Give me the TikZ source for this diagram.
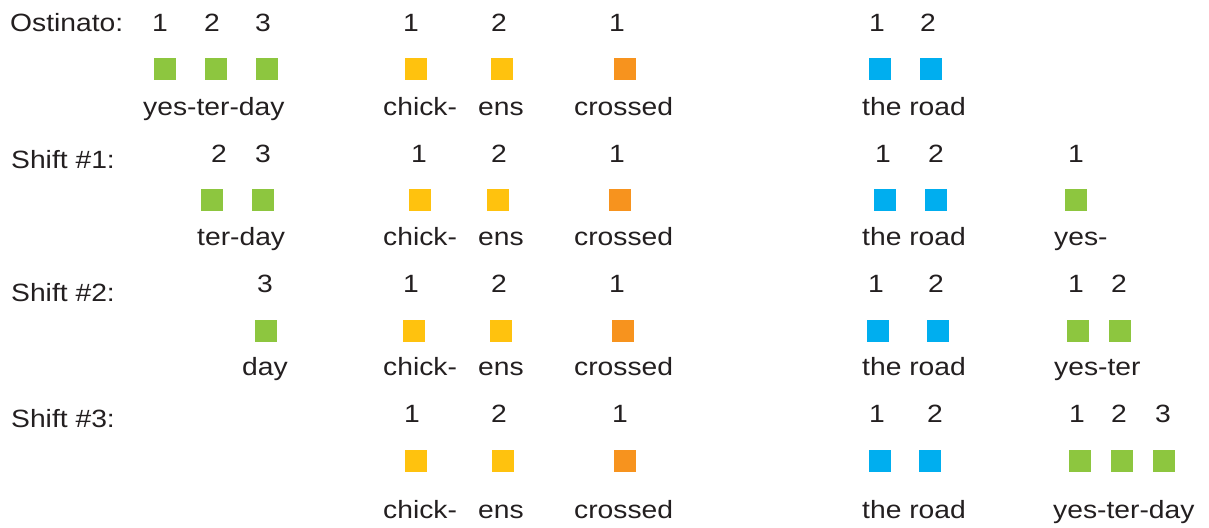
\documentclass[tikz,border=0pt]{standalone}
\usepackage{fontspec}
\setmainfont[FakeStretch=1.13]{Liberation Sans}
\definecolor{txt}{HTML}{231F20}
\definecolor{sqgreen}{HTML}{8DC63F}
\definecolor{sqyellow}{HTML}{FFC20E}
\definecolor{sqorange}{HTML}{F7931E}
\definecolor{sqblue}{HTML}{00AEEF}
\tikzset{
  lbl/.style={anchor=base west, inner sep=0pt, text=txt, font=\fontsize{25}{30}\selectfont},
  num/.style={anchor=base, inner sep=0pt, text=txt, font=\fontsize{25}{30}\selectfont},
  word/.style={anchor=base west, inner sep=0pt, text=txt, font=\fontsize{25}{30}\selectfont},
  sq/.style={rectangle, inner sep=0pt, minimum size=22pt, draw=none},
  gsq/.style={sq, fill=sqgreen},
  ysq/.style={sq, fill=sqyellow},
  osq/.style={sq, fill=sqorange},
  bsq/.style={sq, fill=sqblue}
}
\begin{document}
\begin{tikzpicture}[x=1pt,y=-1pt]
\useasboundingbox (0,0) rectangle (1209,527);
% ---------- Row 1: Ostinato ----------
\node[lbl] (l1) at (10,32) {Ostinato:};
\node[num] (a1n1) at (160,32) {1};
\node[num] (a1n2) at (212,32) {2};
\node[num] (a1n3) at (263,32) {3};
\node[num] (a1n4) at (411,32) {1};
\node[num] (a1n5) at (499,32) {2};
\node[num] (a1n6) at (617,32) {1};
\node[num] (a1n7) at (877,32) {1};
\node[num] (a1n8) at (928,32) {2};
\node[gsq] (a1s1) at (165,69) {};
\node[gsq] (a1s2) at (215.5,69) {};
\node[gsq] (a1s3) at (266.5,69) {};
\node[ysq] (a1s4) at (415.5,69) {};
\node[ysq] (a1s5) at (502,69) {};
\node[osq] (a1s6) at (624.5,69) {};
\node[bsq] (a1s7) at (879.5,69) {};
\node[bsq] (a1s8) at (930.5,69) {};
\node[word] (a1w1) at (143,115) {yes-ter-day};
\node[word] (a1w2) at (383,115) {chick-};
\node[word] (a1w3) at (478,115) {ens};
\node[word] (a1w4) at (574,115) {crossed};
\node[word] (a1w5) at (862,115) {the road};
% ---------- Row 2: Shift #1 ----------
\node[lbl] (l2) at (11,168) {Shift \#1:};
\node[num] (a2n1) at (219,162) {2};
\node[num] (a2n2) at (263,162) {3};
\node[num] (a2n3) at (419,162) {1};
\node[num] (a2n4) at (499,162) {2};
\node[num] (a2n5) at (617,162) {1};
\node[num] (a2n6) at (883,162) {1};
\node[num] (a2n7) at (936,162) {2};
\node[num] (a2n8) at (1076,162) {1};
\node[gsq] (a2s1) at (212,200) {};
\node[gsq] (a2s2) at (263,200) {};
\node[ysq] (a2s3) at (420,200) {};
\node[ysq] (a2s4) at (498,200) {};
\node[osq] (a2s5) at (620,200) {};
\node[bsq] (a2s6) at (885,200) {};
\node[bsq] (a2s7) at (936,200) {};
\node[gsq] (a2s8) at (1076,200) {};
\node[word] (a2w1) at (197,245) {ter-day};
\node[word] (a2w2) at (383,245) {chick-};
\node[word] (a2w3) at (478,245) {ens};
\node[word] (a2w4) at (574,245) {crossed};
\node[word] (a2w5) at (862,245) {the road};
\node[word] (a2w6) at (1054,245) {yes-};
% ---------- Row 3: Shift #2 ----------
\node[lbl] (l3) at (11,301) {Shift \#2:};
\node[num] (a3n1) at (265,292) {3};
\node[num] (a3n2) at (411,292) {1};
\node[num] (a3n3) at (499,292) {2};
\node[num] (a3n4) at (617,292) {1};
\node[num] (a3n5) at (876,292) {1};
\node[num] (a3n6) at (936,292) {2};
\node[num] (a3n7) at (1076,292) {1};
\node[num] (a3n8) at (1119,292) {2};
\node[gsq] (a3s1) at (265.5,331) {};
\node[ysq] (a3s2) at (414,331) {};
\node[ysq] (a3s3) at (500.5,331) {};
\node[osq] (a3s4) at (623,331) {};
\node[bsq] (a3s5) at (878,331) {};
\node[bsq] (a3s6) at (938,331) {};
\node[gsq] (a3s7) at (1078,331) {};
\node[gsq] (a3s8) at (1120,331) {};
\node[word] (a3w1) at (242,375) {day};
\node[word] (a3w2) at (383,375) {chick-};
\node[word] (a3w3) at (478,375) {ens};
\node[word] (a3w4) at (574,375) {crossed};
\node[word] (a3w5) at (862,375) {the road};
\node[word] (a3w6) at (1054,375) {yes-ter};
% ---------- Row 4: Shift #3 ----------
\node[lbl] (l4) at (11,427) {Shift \#3:};
\node[num] (a4n1) at (412,422) {1};
\node[num] (a4n2) at (499,422) {2};
\node[num] (a4n3) at (620,422) {1};
\node[num] (a4n4) at (877,422) {1};
\node[num] (a4n5) at (935,422) {2};
\node[num] (a4n6) at (1077,422) {1};
\node[num] (a4n7) at (1119,422) {2};
\node[num] (a4n8) at (1163,422) {3};
\node[ysq] (a4s1) at (416,461) {};
\node[ysq] (a4s2) at (502.5,461) {};
\node[osq] (a4s3) at (624.5,461) {};
\node[bsq] (a4s4) at (880,461) {};
\node[bsq] (a4s5) at (930,461) {};
\node[gsq] (a4s6) at (1080,461) {};
\node[gsq] (a4s7) at (1122,461) {};
\node[gsq] (a4s8) at (1164,461) {};
\node[word] (a4w1) at (383,518) {chick-};
\node[word] (a4w2) at (478,518) {ens};
\node[word] (a4w3) at (574,518) {crossed};
\node[word] (a4w4) at (862,518) {the road};
\node[word] (a4w5) at (1053,518) {yes-ter-day};
\end{tikzpicture}
\end{document}
